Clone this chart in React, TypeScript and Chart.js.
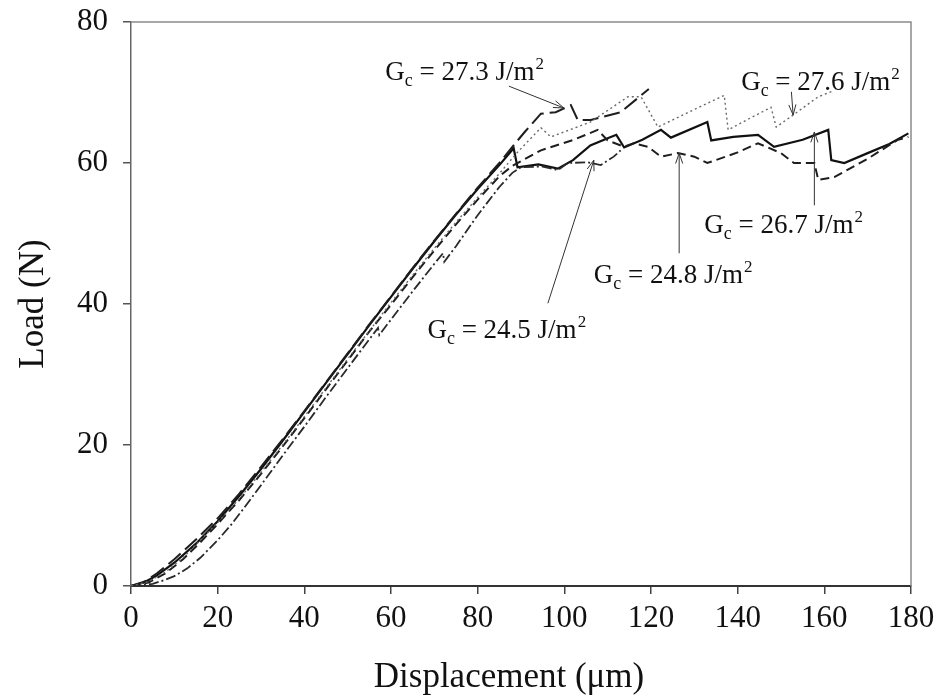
import React, { useEffect, useRef } from "react";
import { Chart, registerables } from "chart.js";

Chart.register(...registerables);

// ---- axis ranges / ticks ----
const X_MIN = 0;
const X_MAX = 180;
const X_STEP = 20;
const Y_MIN = 0;
const Y_MAX = 80;
const Y_STEP = 20;
const X_TITLE = "Displacement (μm)";
const Y_TITLE = "Load (N)";

// ---- series (displacement µm, load N) ----
// Solid curve (Gc = 26.7 J/m2)
const solidX = [0, 3, 6, 10, 15, 20, 25, 30, 35, 40, 45, 50, 55, 60, 65, 70, 75, 80, 85, 88.3, 89.2, 94, 98.5, 102, 106, 110, 112, 113.8, 118, 122.3, 124.6, 133, 133.9, 139, 144.7, 148.4, 155, 160.9, 161.6, 164.6, 170, 175, 179.4];
const solidY = [0, 0.5, 1.5, 3.3, 6.0, 9.2, 12.8, 16.6, 20.6, 24.7, 28.8, 32.9, 37.0, 41.0, 45.0, 48.9, 52.7, 56.3, 59.7, 62.1, 59.4, 59.8, 59.2, 60.4, 62.5, 63.5, 64.0, 62.2, 63.3, 64.7, 63.6, 65.8, 63.2, 63.7, 64.0, 62.3, 63.3, 64.7, 60.4, 60.0, 61.4, 62.7, 64.2];

// Medium dash curve (Gc = 24.8 J/m2)
const dashX = [0, 4, 8, 12, 16, 20, 25, 30, 35, 40, 45, 50, 55, 60, 65, 70, 75, 80, 85, 88, 94.6, 102.2, 107.7, 110, 113.8, 116, 119.3, 122.3, 126.2, 130, 133, 140, 144.7, 150, 153, 157.7, 158.6, 162.3, 170, 177, 179.4];
const dashY = [0, 0.5, 1.8, 3.8, 6.2, 8.8, 12.2, 15.9, 19.8, 23.8, 27.9, 32.0, 36.1, 39.9, 43.8, 47.6, 51.3, 54.8, 58.1, 59.6, 61.8, 63.3, 64.7, 63.2, 62.3, 62.8, 62.3, 60.9, 61.4, 60.9, 60.0, 61.5, 62.8, 61.4, 60.0, 60.0, 57.6, 58.0, 60.6, 63.3, 63.7];

// Dotted curve (Gc = 27.6 J/m2)
const dotX = [0, 4, 8, 12, 16, 20, 25, 30, 35, 40, 45, 50, 55, 60, 65, 70, 75, 80, 85, 89, 94.6, 96.9, 106, 114.7, 117.7, 121.6, 129, 136.9, 137.8, 143, 147.7, 148.9, 152.8, 158.6, 162];
const dotY = [0, 0.6, 2.0, 4.0, 6.5, 9.0, 12.4, 16.1, 20.0, 24.0, 28.1, 32.2, 36.2, 40.2, 44.1, 47.9, 51.6, 55.1, 58.5, 61.4, 65.0, 63.7, 65.8, 69.4, 69.4, 65.1, 67.3, 69.6, 64.7, 66.4, 67.9, 65.1, 66.8, 69.4, 70.2];

// Long dash curve (Gc = 27.3 J/m2)
const longX = [0, 3, 6, 10, 15, 20, 25, 30, 35, 40, 45, 50, 55, 60, 65, 70, 75, 80, 85, 88, 91, 94.6, 98, 101.5, 103.1, 106.1, 113, 119.5];
const longY = [0, 0.6, 1.8, 3.8, 6.6, 9.6, 13.1, 16.9, 20.8, 24.8, 28.9, 33.0, 37.1, 41.1, 45.1, 49.0, 52.8, 56.5, 60.0, 62.3, 64.5, 67.0, 67.2, 68.2, 66.1, 66.1, 67.2, 70.5];

// Dash-dot curve (Gc = 24.5 J/m2)
const dashDotX = [0, 5, 8, 10, 13, 16, 20, 23, 26, 30, 35, 40, 45, 50, 55, 57, 57.3, 60, 65, 70, 72, 72.3, 75, 80, 85, 88, 90, 95, 98.5, 100.8, 105.4, 108.4, 111.4, 113];
const dashDotY = [0, 0.3, 0.9, 1.4, 2.5, 4.0, 6.5, 8.6, 11.0, 14.3, 18.5, 22.6, 26.8, 30.9, 35.0, 36.6, 35.6, 37.8, 41.8, 45.7, 47.2, 46.0, 48.2, 52.6, 56.6, 58.6, 59.4, 59.5, 59.0, 60.0, 60.1, 59.7, 60.9, 61.8];

// ---- annotations (in data units) ----
const annValues = ["27.3", "27.6", "26.7", "24.8", "24.5"];
const annLabelX = [58.7, 140.8, 132.3, 106.8, 68.4];
const annLabelY = [71.8, 70.4, 50.1, 43.0, 35.2];
const annFromX = [87.2, 152.4, 157.7, 126.5, 96.2];
const annFromY = [70.9, 70.1, 54.0, 47.2, 40.1];
const annTipX = [99.9, 152.8, 157.7, 126.5, 106.8];
const annTipY = [67.8, 66.8, 64.4, 61.4, 60.4];

const FONT = '"Liberation Serif", "Times New Roman", serif';

function pts(xs: number[], ys: number[]) {
  return xs.map((x, i) => ({ x, y: ys[i] }));
}

const framePlugin = {
  id: "frame",
  beforeDatasetsDraw(chart: any) {
    const { ctx, chartArea } = chart;
    ctx.save();
    ctx.strokeStyle = "#8a8a8a";
    ctx.lineWidth = 1.5;
    ctx.beginPath();
    ctx.moveTo(chartArea.left, chartArea.top);
    ctx.lineTo(chartArea.right, chartArea.top);
    ctx.lineTo(chartArea.right, chartArea.bottom);
    ctx.stroke();
    ctx.restore();
  },
  afterDraw(chart: any) {
    const { ctx, chartArea } = chart;
    ctx.save();
    ctx.fillStyle = "#111";
    ctx.font = `35px ${FONT}`;
    ctx.textAlign = "center";
    ctx.textBaseline = "middle";
    ctx.fillText(X_TITLE, chartArea.left + 378, chart.height - 17);
    ctx.restore();
  },
};

function drawLabel(ctx: CanvasRenderingContext2D, x: number, y: number, value: string) {
  ctx.fillStyle = "#111";
  ctx.textBaseline = "alphabetic";
  ctx.textAlign = "left";
  ctx.font = `27px ${FONT}`;
  ctx.fillText("G", x, y);
  let cx = x + ctx.measureText("G").width;
  ctx.font = `18px ${FONT}`;
  ctx.fillText("c", cx, y + 6);
  cx += ctx.measureText("c").width;
  ctx.font = `27px ${FONT}`;
  const mid = " = " + value + " J/m";
  ctx.fillText(mid, cx, y);
  cx += ctx.measureText(mid).width;
  ctx.font = `17px ${FONT}`;
  ctx.fillText("2", cx + 1, y - 11);
}

const annotationPlugin = {
  id: "gcLabels",
  afterDatasetsDraw(chart: any) {
    const { ctx } = chart;
    const xs = chart.scales.x;
    const ys = chart.scales.y;
    ctx.save();
    annValues.forEach((v, i) => {
      const lx = xs.getPixelForValue(annLabelX[i]);
      const ly = ys.getPixelForValue(annLabelY[i]);
      drawLabel(ctx, lx, ly, v);
      const fx = xs.getPixelForValue(annFromX[i]);
      const fy = ys.getPixelForValue(annFromY[i]);
      const tx = xs.getPixelForValue(annTipX[i]);
      const ty = ys.getPixelForValue(annTipY[i]);
      const ang = Math.atan2(ty - fy, tx - fx);
      const len = 11;
      const spread = 0.33;
      ctx.strokeStyle = "#333";
      ctx.lineWidth = 1;
      ctx.beginPath();
      ctx.moveTo(fx, fy);
      ctx.lineTo(tx, ty);
      ctx.moveTo(tx - len * Math.cos(ang - spread), ty - len * Math.sin(ang - spread));
      ctx.lineTo(tx, ty);
      ctx.lineTo(tx - len * Math.cos(ang + spread), ty - len * Math.sin(ang + spread));
      ctx.stroke();
    });
    ctx.restore();
  },
};

export default function App() {
  const ref = useRef<HTMLCanvasElement>(null);

  useEffect(() => {
    if (!ref.current) return;
    const chart = new Chart(ref.current, {
      type: "line",
      data: {
        datasets: [
          {
            label: "Gc = 27.6",
            data: pts(dotX, dotY),
            borderColor: "#6a6a6a",
            borderWidth: 1.4,
            borderDash: [2, 3],
            pointRadius: 0,
            fill: false,
            tension: 0,
          },
          {
            label: "Gc = 24.5",
            data: pts(dashDotX, dashDotY),
            borderColor: "#2a2a2a",
            borderWidth: 1.8,
            borderDash: [10, 3, 2, 3],
            pointRadius: 0,
            fill: false,
            tension: 0,
          },
          {
            label: "Gc = 24.8",
            data: pts(dashX, dashY),
            borderColor: "#1e1e1e",
            borderWidth: 2,
            borderDash: [9, 5],
            pointRadius: 0,
            fill: false,
            tension: 0,
          },
          {
            label: "Gc = 27.3",
            data: pts(longX, longY),
            borderColor: "#1e1e1e",
            borderWidth: 2,
            borderDash: [16, 6],
            pointRadius: 0,
            fill: false,
            tension: 0,
          },
          {
            label: "Gc = 26.7",
            data: pts(solidX, solidY),
            borderColor: "#111",
            borderWidth: 2.2,
            pointRadius: 0,
            fill: false,
            tension: 0,
          },
        ],
      },
      options: {
        responsive: false,
        animation: false,
        devicePixelRatio: 1,
        layout: { padding: { left: 0, right: 29, top: 22, bottom: 0 } },
        plugins: {
          legend: { display: false },
          tooltip: { enabled: false },
        },
        scales: {
          x: {
            type: "linear",
            min: X_MIN,
            max: X_MAX,
            afterFit: (s: any) => {
              s.height = 109;
              s.paddingLeft = 0;
              s.paddingRight = 0;
            },
            ticks: {
              stepSize: X_STEP,
              color: "#111",
              padding: 6,
              maxRotation: 0,
              font: { family: FONT, size: 31 },
            },
            grid: {
              drawOnChartArea: false,
              drawTicks: true,
              tickLength: 8,
              color: "#444",
              lineWidth: 1.5,
            },
            border: { display: true, color: "#333", width: 2 },
            title: { display: false, text: X_TITLE },
          },
          y: {
            type: "linear",
            min: Y_MIN,
            max: Y_MAX,
            afterFit: (s: any) => {
              s.width = 131;
              s.paddingTop = 0;
              s.paddingBottom = 0;
            },
            ticks: {
              stepSize: Y_STEP,
              color: "#111",
              padding: 15,
              font: { family: FONT, size: 31 },
            },
            grid: {
              drawOnChartArea: false,
              drawTicks: true,
              tickLength: 8,
              color: "#555",
              lineWidth: 1.5,
            },
            border: { display: true, color: "#666", width: 1.5 },
            title: {
              display: true,
              text: Y_TITLE,
              color: "#111",
              font: { family: FONT, size: 35, lineHeight: 1 },
              padding: { top: 16, bottom: 0 },
            },
          },
        },
      },
      plugins: [framePlugin, annotationPlugin],
    });
    return () => chart.destroy();
  }, []);

  return (
    <div style={{ position: "absolute", left: 0, top: 0, width: 940, height: 695, background: "#fff" }}>
      <canvas ref={ref} width={940} height={695} style={{ width: 940, height: 695, display: "block" }} />
    </div>
  );
}
